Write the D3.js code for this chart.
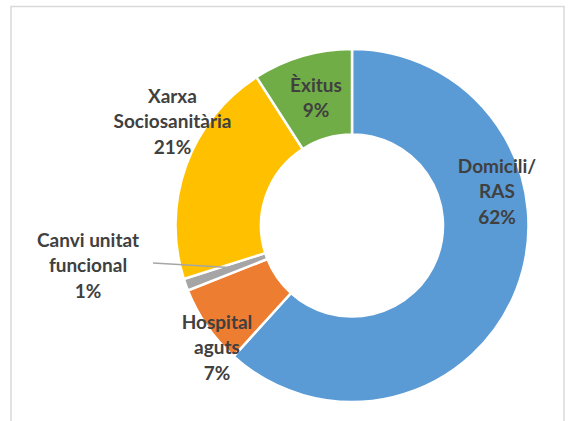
<!DOCTYPE html>
<html>
<head>
<meta charset="utf-8">
<script src="https://cdn.jsdelivr.net/npm/d3@7"></script>
<style>
  html, body { margin: 0; padding: 0; background: #ffffff; }
  svg { display: block; }
</style>
</head>
<body>
<svg id="chart" width="570" height="421"></svg>
<script>
// ---- data ----
const categories = ["Domicili/RAS", "Hospital aguts", "Canvi unitat funcional", "Xarxa Sociosanitària", "Èxitus"];
const values = [61.7, 7.3, 1.1, 20.8, 9.1];
const labelLines = [
  ["Domicili/", "RAS", "62%"],
  ["Hospital", "aguts", "7%"],
  ["Canvi unitat", "funcional", "1%"],
  ["Xarxa", "Sociosanitària", "21%"],
  ["Èxitus", "9%"]
];
const colors = ["#5B9BD5", "#ED7D31", "#A5A5A5", "#FFC000", "#70AD47"];

// ---- layout ----
const W = 570, H = 421;
const cx = 352, cy = 225.5;
const outerR = 176.5, innerR = 91;
// label centres (first line centre y) for each slice
const labelPos = [[497, 166], [217, 322], [88, 240], [172.5, 96], [316, 85]];
const lineH = 25.7;

const svg = d3.select("#chart");

// chart border (light gray frame, open at bottom)
svg.append("path")
  .attr("d", `M11,${H + 2} L11,6.5 L564,6.5 L564,${H + 2}`)
  .attr("fill", "none")
  .attr("stroke", "#d9d9d9")
  .attr("stroke-width", 1.5);

const pie = d3.pie().sort(null).value(d => d)(values);
const arc = d3.arc().innerRadius(innerR).outerRadius(outerR);

const g = svg.append("g").attr("transform", `translate(${cx},${cy})`);
g.selectAll("path.slice")
  .data(pie)
  .join("path")
  .attr("class", "slice")
  .attr("d", arc)
  .attr("fill", (d, i) => colors[i])
  .attr("stroke", "#ffffff")
  .attr("stroke-width", 2.5)
  .attr("stroke-linejoin", "miter");

// leader line for the small slice
const small = pie[2];
const midA = (small.startAngle + small.endAngle) / 2;
const rIn = (innerR + outerR) / 2 - 8;
const lx = cx + Math.sin(midA) * rIn;
const ly = cy - Math.cos(midA) * rIn;
svg.append("path")
  .attr("d", `M153,263 L${lx},${ly}`)
  .attr("fill", "none")
  .attr("stroke", "#a6a6a6")
  .attr("stroke-width", 1.5);

// labels
labelLines.forEach((lines, i) => {
  const t = svg.append("text")
    .attr("text-anchor", "middle")
    .attr("font-family", "Lato, 'Open Sans', sans-serif")
    .attr("font-weight", "bold")
    .attr("font-size", 19)
    .attr("fill", "#404040");
  lines.forEach((s, k) => {
    t.append("tspan")
      .attr("x", labelPos[i][0])
      .attr("y", labelPos[i][1] + k * lineH)
      .attr("dy", "0.35em")
      .text(s);
  });
});
</script>
</body>
</html>
